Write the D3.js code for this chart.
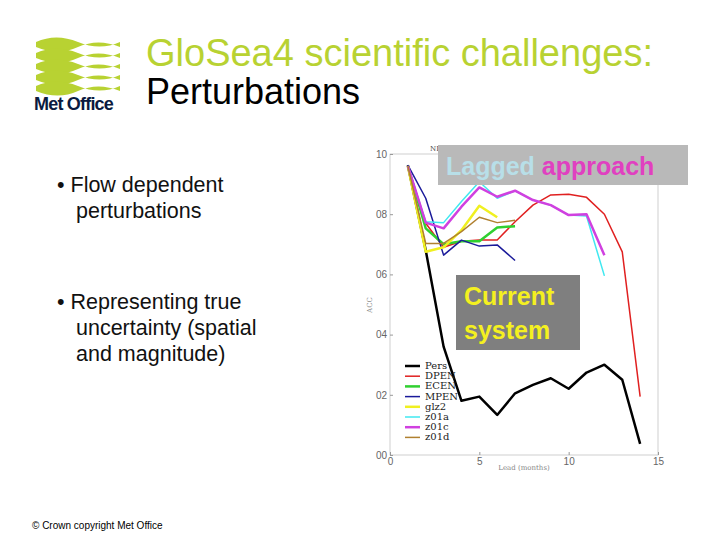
<!DOCTYPE html>
<html><head><meta charset="utf-8">
<script src="https://cdn.jsdelivr.net/npm/d3@7"></script>
<style>body{margin:0;background:#fff}svg{display:block}</style>
</head><body>
<svg width="720" height="540"></svg>
<script>
// lead months and anomaly correlation per run
const leads = [1,2,3,4,5,6,7,8,9,10,11,12,13,14];
const seriesNames = ["Pers","DPEN","ECEN","MPEN","glz2","z01a","z01c","z01d"];
const seriesColors = ["#000000","#e02020","#30d030","#1a1a9a","#f0f020","#40e8f0","#d040e0","#b08030"];
const seriesWidths = [2.5,1.5,2.5,1.5,2.5,1.5,2.5,1.5];
const pers = [0.963,0.68,0.36,0.18,0.194,0.133,0.205,0.233,0.255,0.22,0.274,0.30,0.25,0.037];
const dpen = [0.96,0.77,0.69,0.71,0.714,0.714,0.775,0.83,0.864,0.866,0.856,0.80,0.675,0.194];
const ecen = [0.96,0.753,0.70,0.71,0.71,0.756,0.76];
const mpen = [0.963,0.853,0.664,0.714,0.694,0.698,0.646];
const glz2 = [0.96,0.675,0.69,0.747,0.828,0.79];
const z01a = [0.96,0.775,0.772,0.842,0.908,0.853,0.878,0.847,0.83,0.797,0.794,0.595];
const z01c = [0.96,0.772,0.753,0.825,0.889,0.858,0.878,0.847,0.83,0.797,0.80,0.664];
const z01d = [0.96,0.703,0.703,0.742,0.79,0.772,0.78];
const seriesValues = [pers,dpen,ecen,mpen,glz2,z01a,z01c,z01d];
const yTicks = [0,0.2,0.4,0.6,0.8,1.0];
const xTicks = [0,5,10,15];

const svg = d3.select("svg");

// slide header
const logo = svg.append("g");
for (let i = 0; i < 5; i++) {
  logo.append("path").attr("d", `M36,${42+i*11} q20,-9 42,0 t42,0 l0,5 q-22,-9 -42,0 t-42,0 z`).attr("fill", "#b8d232");
}
svg.append("text").attr("x", 34).attr("y", 110).attr("font-family", "Liberation Sans").attr("font-weight", "bold").attr("font-size", 18).attr("letter-spacing", -0.8).attr("fill", "#0a1a40").text("Met Office");
svg.append("text").attr("x", 146).attr("y", 66).attr("font-family", "Liberation Sans").attr("font-size", 38).attr("fill", "#b8d232").text("GloSea4 scientific challenges:");
svg.append("text").attr("x", 146).attr("y", 104).attr("font-family", "Liberation Sans").attr("font-size", 36).attr("fill", "#000").text("Perturbations");

const bullets = [[192, ["•  Flow dependent", "perturbations"]], [309, ["•  Representing true", "uncertainty (spatial", "and magnitude)"]]];
bullets.forEach(([y, lines]) => {
  lines.forEach((l, i) => svg.append("text").attr("x", i ? 76 : 57).attr("y", y + i * 26)
    .attr("font-family", "Liberation Sans").attr("font-size", 21.5).attr("fill", "#111").text(l));
});
svg.append("text").attr("x", 32).attr("y", 529).attr("font-family", "Liberation Sans").attr("font-size", 10).text("© Crown copyright   Met Office");

// chart
const x = d3.scaleLinear().domain([0, 15]).range([390, 658]);
const y = d3.scaleLinear().domain([0, 1]).range([455, 154]);
const g = svg.append("g").attr("font-family", "DejaVu Serif").attr("font-size", 7);

g.append("rect").attr("x", 390).attr("y", 154).attr("width", 268).attr("height", 301).attr("fill", "none").attr("stroke", "#bbb").attr("stroke-width", 0.7);
g.append("g").attr("transform", "translate(0,455)").call(d3.axisBottom(x).tickValues(xTicks).tickSize(-3).tickFormat(d3.format("d")))
  .call(a => { a.select(".domain").remove(); a.selectAll("line").attr("stroke", "#999"); a.selectAll("text").attr("fill", "#666"); });
g.append("g").attr("transform", "translate(390,0)").call(d3.axisLeft(y).tickValues(yTicks).tickSize(-3).tickFormat(d => d3.format(".1f")(d).replace(".", "")))
  .call(a => { a.select(".domain").remove(); a.selectAll("line").attr("stroke", "#999"); a.selectAll("text").attr("fill", "#666"); });
g.append("text").attr("x", 524).attr("y", 470).attr("text-anchor", "middle").attr("fill", "#888").text("Lead (months)");
g.append("text").attr("transform", "translate(372,305) rotate(-90)").attr("text-anchor", "middle").attr("fill", "#888").text("ACC");
g.append("text").attr("x", 430).attr("y", 151).attr("fill", "#444").text("NI");

const line = d3.line().x((d, i) => x(leads[i])).y(d => y(d));
seriesValues.forEach((vals, k) => {
  g.append("path").datum(vals).attr("d", line).attr("fill", "none")
    .attr("stroke", seriesColors[k]).attr("stroke-width", seriesWidths[k]).attr("stroke-linejoin", "round");
});

// legend
seriesNames.forEach((n, k) => {
  const ly = 366 + k * 10.2;
  g.append("line").attr("x1", 405).attr("x2", 420).attr("y1", ly).attr("y2", ly)
    .attr("stroke", seriesColors[k]).attr("stroke-width", seriesWidths[k]);
  g.append("text").attr("x", 425).attr("y", ly + 3).attr("font-size", 10).attr("fill", "#222").text(n);
});

// overlay boxes
svg.append("rect").attr("x", 438).attr("y", 145).attr("width", 250).attr("height", 40).attr("fill", "#b9b9b9");
const lt = svg.append("text").attr("x", 446).attr("y", 175).attr("font-family", "Liberation Sans").attr("font-weight", "bold").attr("font-size", 25);
lt.append("tspan").attr("fill", "#b8dfe8").text("Lagged ");
lt.append("tspan").attr("fill", "#e040c0").text("approach");
svg.append("rect").attr("x", 456).attr("y", 275).attr("width", 124).attr("height", 75).attr("fill", "#7f7f7f");
["Current", "system"].forEach((t, i) => svg.append("text").attr("x", 464).attr("y", 305 + i * 34)
  .attr("font-family", "Liberation Sans").attr("font-weight", "bold").attr("font-size", 25).attr("fill", "#f4f020").text(t));
</script>
</body></html>
